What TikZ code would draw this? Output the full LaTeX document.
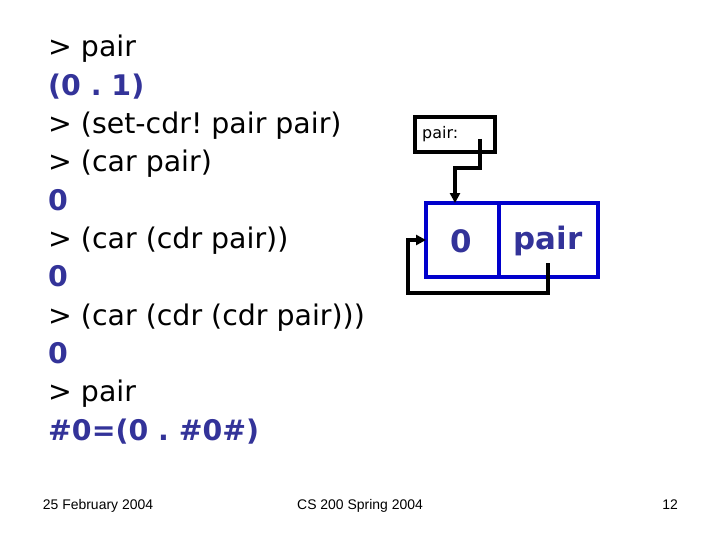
\documentclass[tikz,border=0pt]{standalone}
\usepackage{fontspec}
\setmainfont{DejaVu Sans}
\newfontfamily\footfont{Liberation Sans}
\usetikzlibrary{arrows.meta,positioning}
\definecolor{outblue}{HTML}{333399}
\definecolor{boxblue}{HTML}{0000CC}
\frenchspacing

\begin{document}
\begin{tikzpicture}[
  x=1bp, y=-1bp,
  cmd/.style = {anchor=base west, inner sep=0pt, font=\fontsize{28.5}{32}\selectfont},
  res/.style = {anchor=base west, inner sep=0pt, font=\fontsize{28.5}{32}\selectfont\bfseries, text=outblue},
  foot/.style = {anchor=base, inner sep=0pt, font=\footfont\fontsize{14}{16}\selectfont},
  cell/.style = {font=\fontsize{31}{34}\selectfont\bfseries, text=outblue},
  ptr/.style = {-{Triangle[length=3.5mm, width=3.5mm]}, line width=3.5pt}
]
\useasboundingbox (0,0) rectangle (720,540);

% interaction transcript
\node[cmd] (l1) at (48,57) {> pair};
\node[res] (l2) at (48,95.3) {(0 . 1)};
\node[cmd] (l3) at (48,133.6) {> (set-cdr! pair pair)};
\node[cmd] (l4) at (48,171.9) {> (car pair)};
\node[res] (l5) at (48,210.2) {0};
\node[cmd] (l6) at (48,248.5) {> (car (cdr pair))};
\node[res] (l7) at (48,286.8) {0};
\node[cmd] (l8) at (48,325.1) {> (car (cdr (cdr pair)))};
\node[res] (l9) at (48,363.4) {0};
\node[cmd] (l10) at (48,401.7) {> pair};
\node[res] (l11) at (48,440) {\#0=(0 . \#0\#)};

% variable box
\draw[line width=3.5pt] (415,117) rectangle (495,152);
\node[anchor=west, inner sep=0pt, font=\fontsize{16}{18}\selectfont] (var) at (422,134) {pair:};
\coordinate (varptr) at (480,139);

% cons cell
\draw[boxblue, line width=3.5pt] (426,203) rectangle (598,277);
\draw[boxblue, line width=3.5pt] (499,203) -- (499,277);
\node[cell] (car) at (461,241) {0};
\node[cell] (cdr) at (548,241) {pair};
\coordinate (cartop) at (455,203);
\coordinate (carleft) at (426,240);
\coordinate (cdrptr) at (548,263);

% pointers
\draw[ptr] (varptr) -- (480,168) -| (cartop);
\draw[ptr] (cdrptr) -- (548,293) -| (408,240) -- (carleft);

% footer
\node[foot] (date) at (98,509) {25 February 2004};
\node[foot] (course) at (360,509) {CS 200 Spring 2004};
\node[foot] (page) at (670,509) {12};
\end{tikzpicture}
\end{document}
